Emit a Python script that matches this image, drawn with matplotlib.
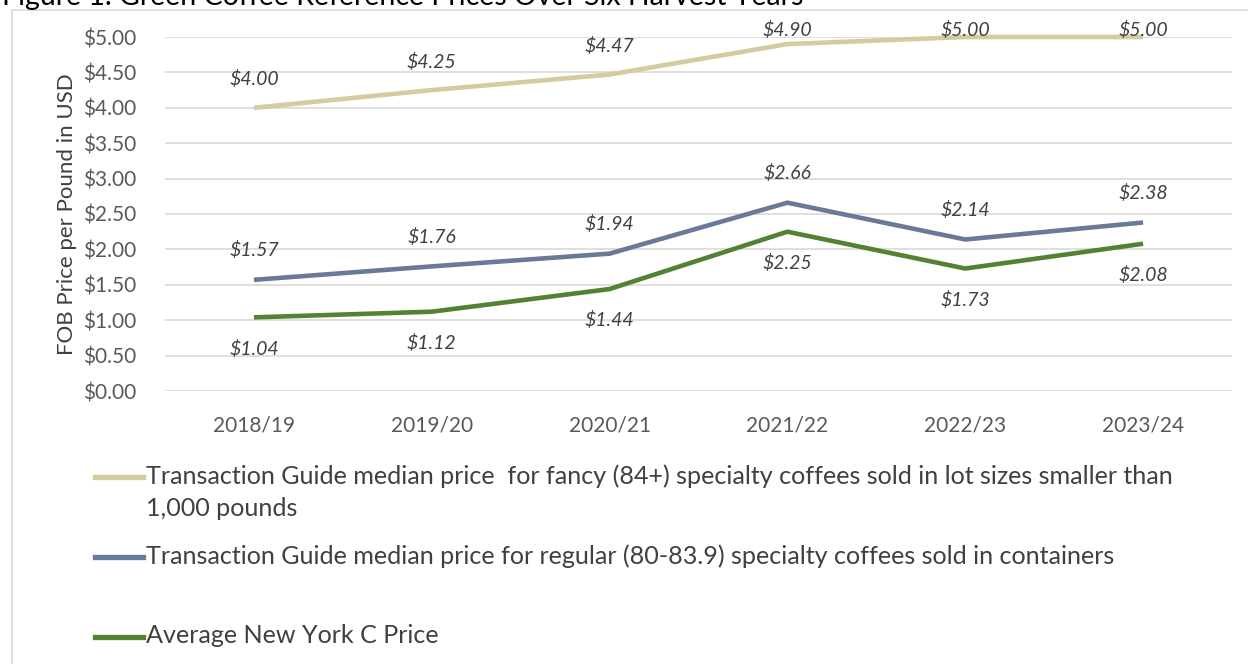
import matplotlib.pyplot as plt
from matplotlib.lines import Line2D
from matplotlib.patches import Rectangle

years = ["2018/19", "2019/20", "2020/21", "2021/22", "2022/23", "2023/24"]
fancy = [4.00, 4.25, 4.47, 4.90, 5.00, 5.00]
regular = [1.57, 1.76, 1.94, 2.66, 2.14, 2.38]
ny_c = [1.04, 1.12, 1.44, 2.25, 1.73, 2.08]

names = [
    "Transaction Guide median price  for fancy (84+) specialty coffees sold in lot sizes smaller than\n1,000 pounds",
    "Transaction Guide median price for regular (80-83.9) specialty coffees sold in containers",
    "Average New York C Price",
]
colors = ["#D4CB9E", "#68799A", "#548235"]

plt.rcParams["font.family"] = ["Lato", "DejaVu Sans"]
W, H = 1248, 664
fig = plt.figure(figsize=(W / 100, H / 100), dpi=100)

# chart frame
fig.patches.append(Rectangle((12 / W, -0.1), 1.2, 1 - 10 / H + 0.1, transform=fig.transFigure,
                             fill=False, edgecolor="#D9D9D9", lw=1.2))
fig.text(2 / W, 1 - 5 / H, "Figure 1. Green Coffee Reference Prices Over Six Harvest Years",
         fontsize=20.5, color="#000000", va="baseline", ha="left")

ax = fig.add_axes([165 / W, 1 - 391 / H, (1232 - 165) / W, (391 - 37) / H])
x = range(len(years))
series = [fancy, regular, ny_c]
for vals, c in zip(series, colors):
    ax.plot(x, vals, color=c, lw=3.3, solid_capstyle="butt", clip_on=False, zorder=3)

lab = dict(ha="center", va="center", style="italic", fontsize=14, color="#404040")
# data labels: above for the two guide prices (kept inside the top), below for NY C
for i, v in enumerate(fancy):
    ax.text(i, min(v + 0.4, 5.1), f"${v:.2f}", **lab)
for i, v in enumerate(regular):
    ax.text(i, v + 0.42, f"${v:.2f}", **lab)
for i, v in enumerate(ny_c):
    ax.text(i, v - 0.44, f"${v:.2f}", **lab)

ax.set_xlim(-0.5, len(years) - 0.5)
ax.set_ylim(0, 5)
ax.set_yticks([i * 0.5 for i in range(11)])
ax.set_yticklabels([f"${i * 0.5:.2f}" for i in range(11)])
ax.set_xticks(list(x))
ax.set_xticklabels(years)
ax.tick_params(length=0, labelsize=15, colors="#595959")
ax.tick_params(axis="y", pad=21)
ax.tick_params(axis="x", pad=18)
ax.grid(axis="y", color="#D9D9D9", lw=1.2)
ax.set_axisbelow(True)
for s in ax.spines.values():
    s.set_visible(False)
ax.set_ylabel("FOB Price per Pound in USD", fontsize=16, color="#404040", labelpad=4)

# legend
ys = [477, 557, 637]
for yy, name, c in zip(ys, names, colors):
    fig.lines.append(Line2D([95 / W, 143 / W], [1 - yy / H, 1 - yy / H], transform=fig.transFigure,
                            color=c, lw=3.8))
    fig.text(146 / W, 1 - (yy - 13) / H, name, fontsize=18.1, color="#404040", ha="left", va="top",
             linespacing=1.5)

fig.savefig("out.png", dpi=100)
